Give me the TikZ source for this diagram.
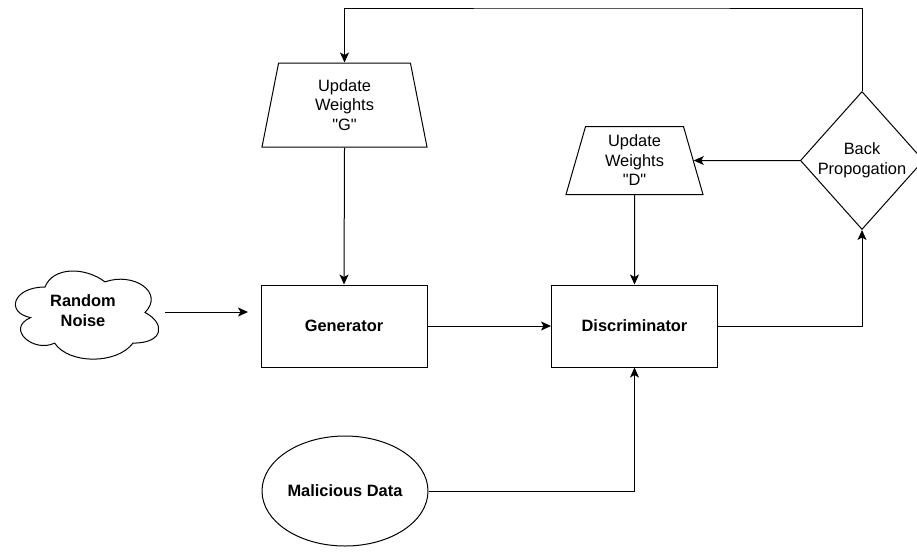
\documentclass[tikz,border=0pt]{standalone}
\usepackage{fontspec}
\setmainfont{Liberation Sans}
% a family without the TeX input mapping, so " stays a straight quote
\newfontfamily\labelfont{Liberation Sans}
\usetikzlibrary{shapes.geometric,arrows.meta}
\begin{document}
\begin{tikzpicture}[x=1pt,y=-1pt,
  line width=1pt,
  txt/.style={font=\labelfont\fontsize{16.4}{19.5}\selectfont, align=center, text=black},
  bold/.style={txt, font=\labelfont\fontsize{16.4}{20}\selectfont\bfseries},
  block/.style={bold, draw, rectangle, minimum width=166pt, minimum height=82pt, inner sep=0pt},
  weights/.style={txt, draw, trapezium, trapezium stretches body=true, inner sep=0pt},
  decision/.style={txt, draw, diamond, minimum width=122pt, minimum height=138pt, inner sep=0pt},
  source/.style={bold, draw, ellipse, minimum width=166pt, minimum height=110pt, inner sep=0pt},
  arr/.style={draw, -{Stealth[length=10pt,width=9pt,inset=2.5pt]}}]
\useasboundingbox (0,0) rectangle (917,552);

% cloud outline of the noise source
\draw (45,287) .. controls (13,287) and (5,312.5) .. (30.6,317.6)
  .. controls (5,328.8) and (33.8,353.3) .. (54.6,343.1)
  .. controls (69,364.5) and (117,364.5) .. (133,343.1)
  .. controls (165,343.1) and (165,322.7) .. (145,312.5)
  .. controls (165,292.1) and (133,271.7) .. (105,281.9)
  .. controls (85,266.6) and (53,266.6) .. cycle;
\node[bold] (noise) at (83,311) {Random\\Noise};

% main blocks
\node[block] (gen) at (344,326) {Generator};
\node[block] (disc) at (634.5,326) {Discriminator};
\node[weights, minimum width=165pt, minimum height=84pt,
      trapezium left angle=72, trapezium right angle=72] (updG) at (344.5,105) {Update\\Weights\\"G"};
\node[weights, minimum width=137pt, minimum height=68pt,
      trapezium left angle=69, trapezium right angle=69] (updD) at (634.5,160.5) {Update\\Weights\\"D"};
\node[decision] (bp) at (862,160.5) {Back\\Propogation};
\node[source] (mal) at (345,491) {Malicious Data};

% connectors
\coordinate (nstart) at (165,312);
\coordinate (nend) at (248,312);
\coordinate (loop) at (600,8);
\draw[arr] (nstart) -- (nend);
\draw[arr] (gen.east) -- (disc.west);
\draw[arr] (updG.south) -- (gen.north);
\draw[arr] (updD.south) -- (disc.north);
\draw[arr] (mal.east) -| (disc.south);
\draw[arr] (disc.east) -| (bp.south);
\draw[arr] (bp.west) -- (updD.east);
\draw[arr] (bp.north) |- (loop) -| (updG.north);
\end{tikzpicture}
\end{document}
